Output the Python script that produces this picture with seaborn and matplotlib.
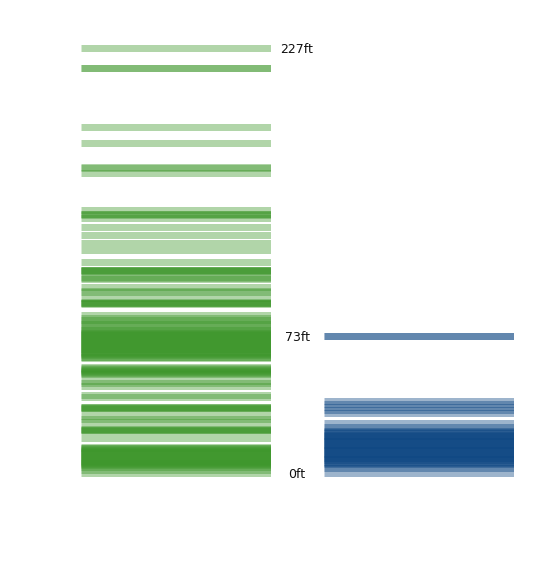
import matplotlib
matplotlib.use("Agg")
import matplotlib.pyplot as plt
import seaborn as sns

# --- data (feet) ---
green_values = [
    227.0,
    216.3, 216.3,
    184.8,
    176.3,
    163.5, 163.0, 160.0,
    140.5, 138.3, 138.1, 137.9, 136.2,
    131.1, 127.1, 122.9, 118.9,
    112.4,
    108.5, 108.3, 108.2, 108.0, 107.9,
    104.5, 104.0, 103.4,
    99.1, 97.0, 96.8,
    93.2, 91.4, 91.0, 90.8, 90.6, 90.3,
    84.1, 82.5, 81.7, 80.5, 79.3, 78.9,
    77.0, 76.5, 76.0, 75.4, 74.9, 74.3, 73.8, 73.2, 72.7, 72.1,
    71.6, 71.0, 70.5, 69.9, 69.4, 68.8, 68.3, 67.7, 67.2, 66.6,
    66.1, 65.5, 65.0, 64.4, 63.9, 63.3, 62.8, 62.2, 61.7, 61.4,
    56.4, 55.9, 55.4, 54.9, 54.4, 53.9, 53.4, 52.9, 52.7,
    49.3, 48.1, 46.5,
    41.7, 40.6,
    35.5, 35.2, 35.0, 34.7, 34.5,
    30.7, 28.8, 27.2,
    23.8, 23.5, 23.2, 23.0, 22.7,
    19.0,
    14.2, 13.7, 13.2, 12.7, 12.2, 11.7, 11.2, 10.7, 10.2, 9.7, 9.2,
    8.7, 8.2, 7.7, 7.2, 6.7, 6.2, 5.7, 5.2, 4.7, 4.2, 3.7, 3.5,
    1.6, 0.0,
]

blue_values = [
    73.0, 73.0,
    38.7, 36.9, 35.3, 33.9, 32.1,
    27.0, 24.8,
    23.0, 22.4, 21.8, 21.2, 20.6, 20.0, 19.4, 18.8, 18.2, 17.6,
    17.0, 16.4, 15.8, 15.2, 14.6, 14.0, 13.4, 12.8, 12.2, 11.6,
    11.0, 10.4, 9.8, 9.2, 8.6, 8.0, 7.4, 6.8, 6.2, 5.6, 5.0,
    3.7, 2.9, 0.0,
]

unit = "ft"

sns.set_style("white")
plt.rcParams['font.family'] = ['DejaVu Sans']

W, H = 556, 581
dpi = 100
fig = plt.figure(figsize=(W / dpi, H / dpi), dpi=dpi)

# vertical mapping: 0ft -> px 473.2, 227ft -> px 47.5
y0_px, y227_px = 473.2, 47.5
px_per_ft = (y0_px - y227_px) / 227.0
top_px, bot_px = 30, 490
ymin = (y0_px - bot_px) / px_per_ft
ymax = (y0_px - top_px) / px_per_ft
ax_bottom = (H - bot_px) / H
ax_height = (bot_px - top_px) / H

ax1 = fig.add_axes([81 / W, ax_bottom, 190 / W, ax_height])
ax2 = fig.add_axes([324 / W, ax_bottom, 190 / W, ax_height])

band_lw = 7 * 72 / dpi  # 7 px thick bands

sns.rugplot(y=green_values, ax=ax1, height=1, color="#3c962a",
            alpha=0.4, linewidth=band_lw, expand_margins=False)
sns.rugplot(y=blue_values, ax=ax2, height=1, color="#0b4581",
            alpha=0.4, linewidth=band_lw, expand_margins=False)

for ax in (ax1, ax2):
    ax.set_ylim(ymin, ymax)
    ax.set_xlim(0, 1)
    ax.axis("off")

label_x = (297 - 81) / 190
tr = ax1.get_yaxis_transform()
for v in (max(green_values), max(blue_values), 0):
    ax1.text(label_x, v, f"{v:g}{unit}", transform=tr, ha="center",
             va="center_baseline", fontsize=9, color="#111111", clip_on=False)

fig.savefig("out.png", dpi=dpi)
